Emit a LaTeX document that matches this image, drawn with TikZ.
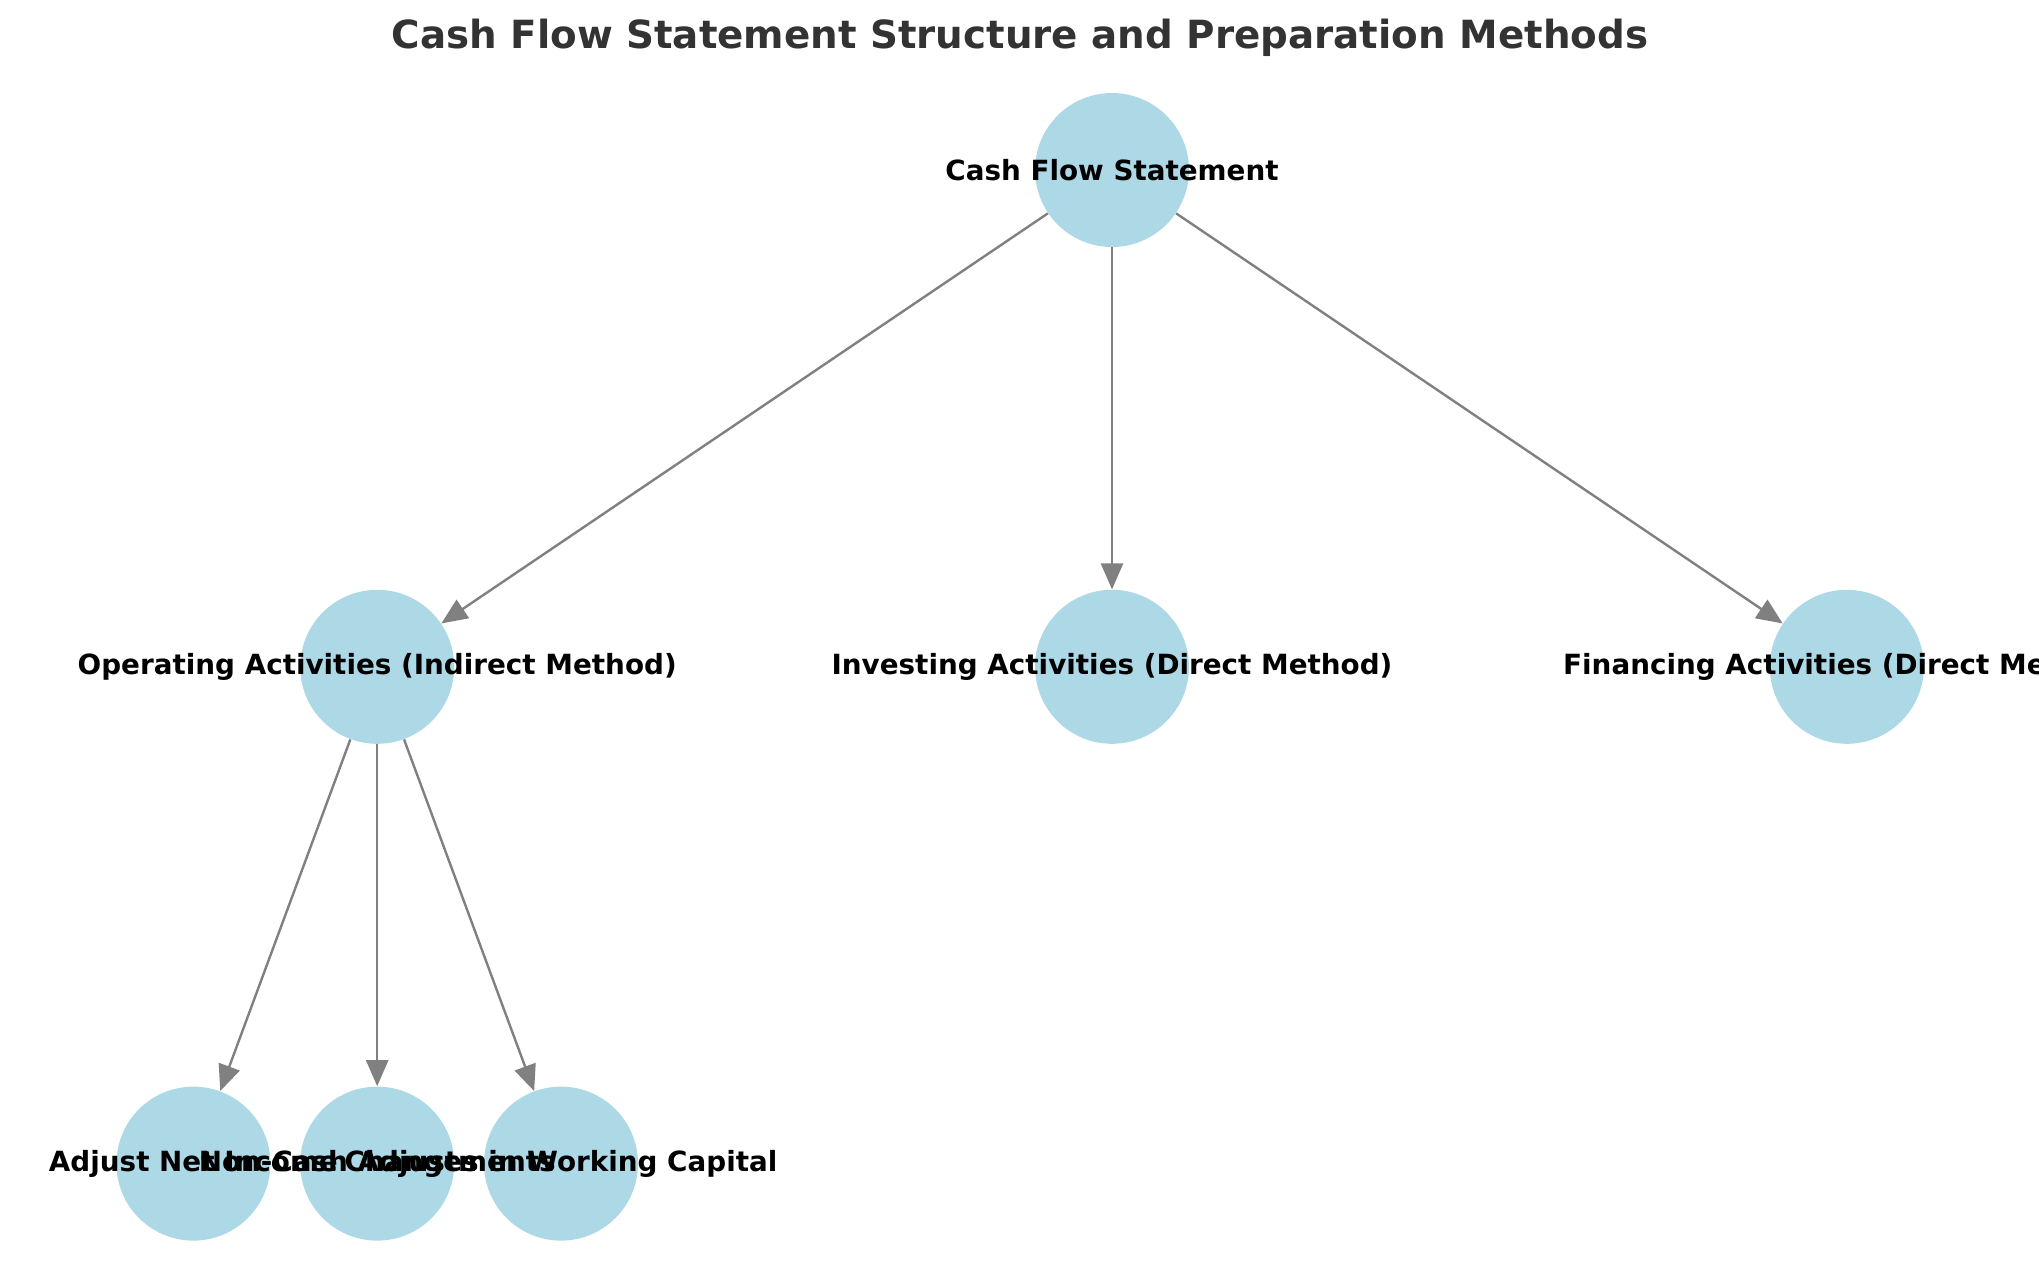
\documentclass[tikz,border=0pt]{standalone}
\usepackage{fontspec}
\setmainfont{DejaVu Sans}
\usepackage{xcolor}
\usepackage{tikz}
\usetikzlibrary{arrows.meta,positioning}

\definecolor{nodeblue}{HTML}{ADD8E6}
\definecolor{titlegray}{HTML}{333333}

\begin{document}
\begin{tikzpicture}[
    circ/.style={circle, fill=nodeblue, draw=none, minimum size=77pt, inner sep=0pt},
    txt/.style={font=\fontsize{13.9}{16}\selectfont\bfseries, text=black, inner sep=0pt},
    arr/.style={-{Triangle[length=13pt, width=11pt]}, line width=1.2pt, draw=gray},
]
\useasboundingbox (0,0) rectangle (1019.5pt,-643pt);

% --- Title ---
\node[font=\fontsize{19.4}{23}\selectfont\bfseries, text=titlegray] (title) at (510pt,-19pt)
    {Cash Flow Statement Structure and Preparation Methods};

% --- Nodes ---
\node[circ] (cfs) at (556pt,-85pt) {};
\node[circ, below=171pt of cfs] (inv) {};
\node[circ, left=290pt of inv] (op) {};
\node[circ, right=290pt of inv] (fin) {};
\node[circ, below=171pt of op] (noncash) {};
\node[circ, left=14.5pt of noncash] (adj) {};
\node[circ, right=14.5pt of noncash] (wc) {};

% --- Labels ---
\node[txt] (cfs-t) at (cfs) {Cash Flow Statement};
\node[txt] (op-t) at (op) {Operating Activities (Indirect Method)};
\node[txt] (inv-t) at (inv) {Investing Activities (Direct Method)};
\node[txt] (fin-t) at (fin) {Financing Activities (Direct Method)};
\node[txt] (adj-t) at (adj) {Adjust Net Income};
\node[txt] (noncash-t) at (noncash) {Non-Cash Adjustments};
\node[txt] (wc-t) at (wc) {Changes in Working Capital};

% --- Arrows ---
\draw[arr] (cfs) -- (op);
\draw[arr] (cfs) -- (inv);
\draw[arr] (cfs) -- (fin);
\draw[arr] (op) -- (adj);
\draw[arr] (op) -- (noncash);
\draw[arr] (op) -- (wc);

\end{tikzpicture}
\end{document}
